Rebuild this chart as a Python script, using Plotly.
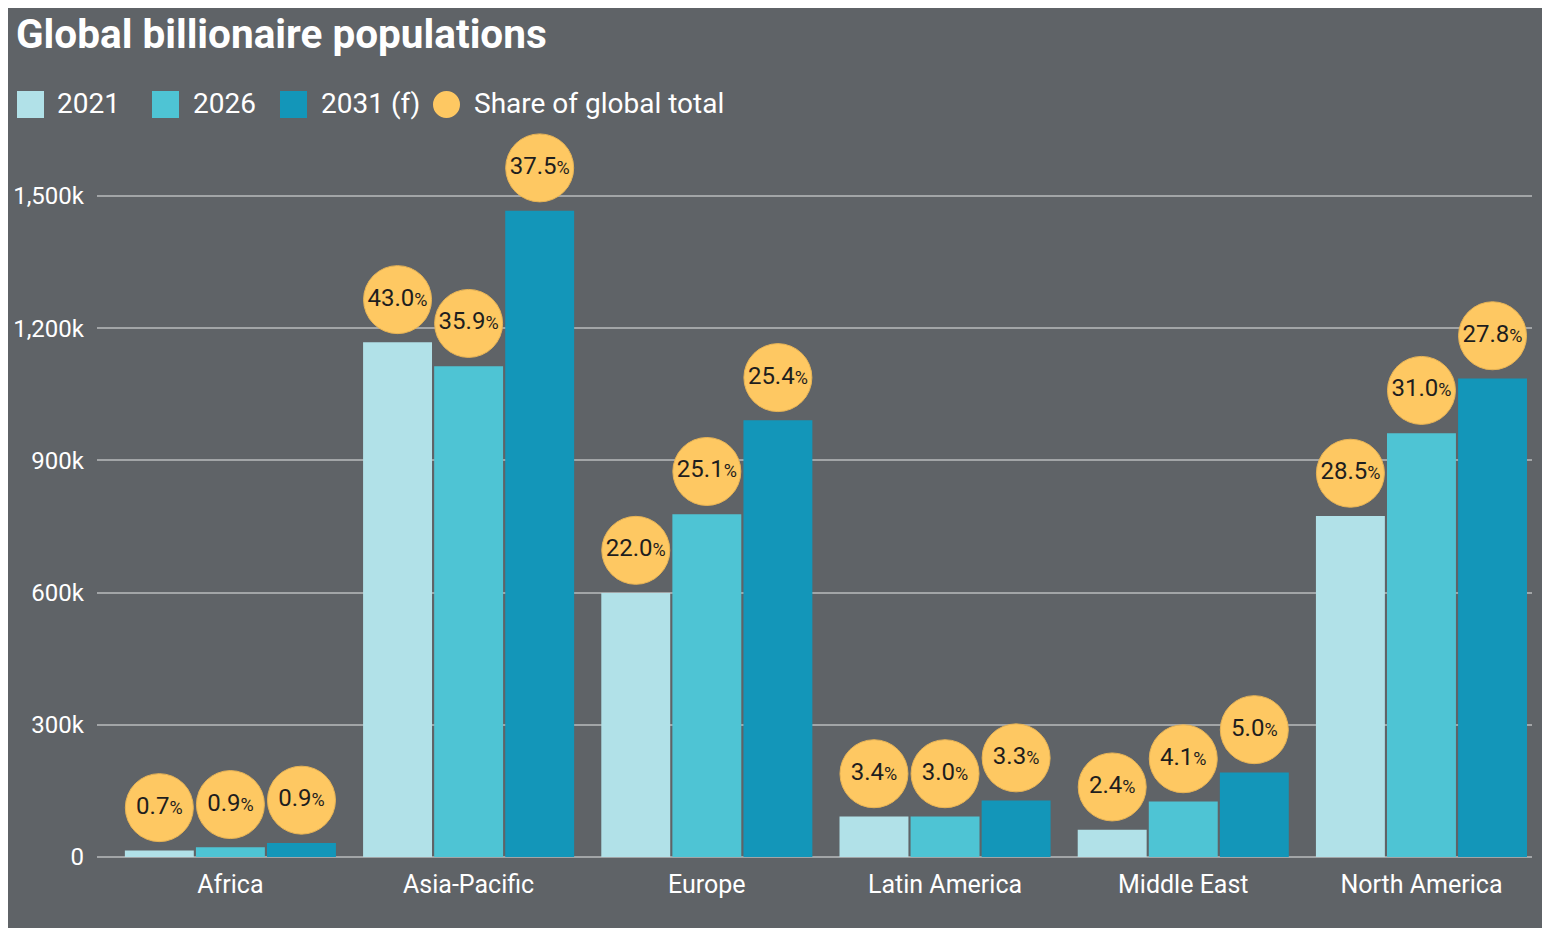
import plotly.graph_objects as go

# data
regions = ['Africa', 'Asia-Pacific', 'Europe', 'Latin America', 'Middle East', 'North America']
pop_2021 = [15000, 1168000, 599000, 92000, 62000, 774000]
pop_2026 = [22000, 1114000, 778000, 92000, 126000, 962000]
pop_2031 = [32000, 1467000, 991000, 128000, 192000, 1086000]
share_2021 = [0.7, 43.0, 22.0, 3.4, 2.4, 28.5]
share_2026 = [0.9, 35.9, 25.1, 3.0, 4.1, 31.0]
share_2031 = [0.9, 37.5, 25.4, 3.3, 5.0, 27.8]
y_ticks = [0, 300000, 600000, 900000, 1200000, 1500000]
y_tick_text = ['0', '300k', '600k', '900k', '1,200k', '1,500k']

BG = '#5f6367'
C_2021 = '#b1e1e8'
C_2026 = '#4ec4d4'
C_2031 = '#1396b9'
C_SHARE = '#fec862'
FONT = 'Roboto'

# page shows the figure with an 8px body margin, so everything is laid out 8px up/left
OFF = 8
W, H = 1550 - OFF, 928 - OFF
M_L, M_R, M_T, M_B = 97 - OFF, 18, 130 - OFF, 71
Y_MAX = 1650000
BUBBLE_LIFT = 97000  # bubbles sit ~43px above the bar top


def px(x):
    return (x - OFF - M_L) / (W - M_L - M_R)


def py(y):
    return (H - M_B - (y - OFF)) / (H - M_T - M_B)


def pct_label(v):
    return f"{v:.1f}<span style='font-size:18px'>%</span>"


fig = go.Figure()
for name, vals, col in [('2021', pop_2021, C_2021), ('2026', pop_2026, C_2026), ('2031 (f)', pop_2031, C_2031)]:
    fig.add_trace(go.Bar(x=regions, y=vals, name=name, marker=dict(color=col, line_width=0),
                         showlegend=False))

for name, vals, shares in [('2021', pop_2021, share_2021), ('2026', pop_2026, share_2026),
                           ('2031 (f)', pop_2031, share_2031)]:
    fig.add_trace(go.Scatter(
        x=regions, y=[v + BUBBLE_LIFT for v in vals],
        mode='markers+text',
        marker=dict(size=68, color=C_SHARE, line=dict(width=1, color='#e8b455')),
        text=[pct_label(s) for s in shares],
        textposition='middle center',
        textfont=dict(family=FONT, size=24, color='#1e1e1e'),
        showlegend=False, cliponaxis=False, hoverinfo='skip',
    ))

# hand-made legend (native legend symbols are too small)
shapes = []
annotations = []
legend_items = [('2021', C_2021, 17, 55, 'rect'), ('2026', C_2026, 152, 191, 'rect'),
                ('2031 (f)', C_2031, 280, 319, 'rect'), ('Share of global total', C_SHARE, 433, 472, 'circle')]
for label, col, sx, tx, kind in legend_items:
    shapes.append(dict(type=kind, xref='paper', yref='paper', x0=px(sx), x1=px(sx + 27),
                       y0=py(118), y1=py(91), fillcolor=col, line_width=0, layer='above'))
    annotations.append(dict(text=label, xref='paper', yref='paper', x=px(tx), y=py(104),
                            xanchor='left', yanchor='middle', showarrow=False,
                            font=dict(family=FONT, size=28, color='white')))

fig.update_layout(
    width=W, height=H,
    margin=dict(l=M_L, r=M_R, t=M_T, b=M_B),
    paper_bgcolor=BG, plot_bgcolor=BG,
    barmode='group', bargap=0.105, bargroupgap=0.03,
    scattermode='group', scattergap=0.105,
    title=dict(text='<b>Global billionaire populations</b>', x=(16 - OFF) / W, xref='container',
               xanchor='left', y=1 - (34 - OFF) / H, yanchor='middle',
               font=dict(family=FONT, size=40.5, color='white')),
    font=dict(family=FONT, color='white'),
    shapes=shapes, annotations=annotations,
    showlegend=False,
)
fig.update_xaxes(range=[-0.56, 5.464], showgrid=False, ticks='', ticklabelstandoff=10,
                 tickfont=dict(size=25, color='white'), showline=False, zeroline=False,
                 automargin=False)
fig.update_yaxes(range=[0, Y_MAX], tickvals=y_ticks, ticktext=y_tick_text, showgrid=True,
                 gridcolor='#a2a5a7', gridwidth=1.5, zeroline=True, zerolinecolor='#a2a5a7',
                 zerolinewidth=1.5, ticks='', ticklabelstandoff=12, automargin=False,
                 tickfont=dict(size=24, color='white'))

fig.write_html("out.html")
